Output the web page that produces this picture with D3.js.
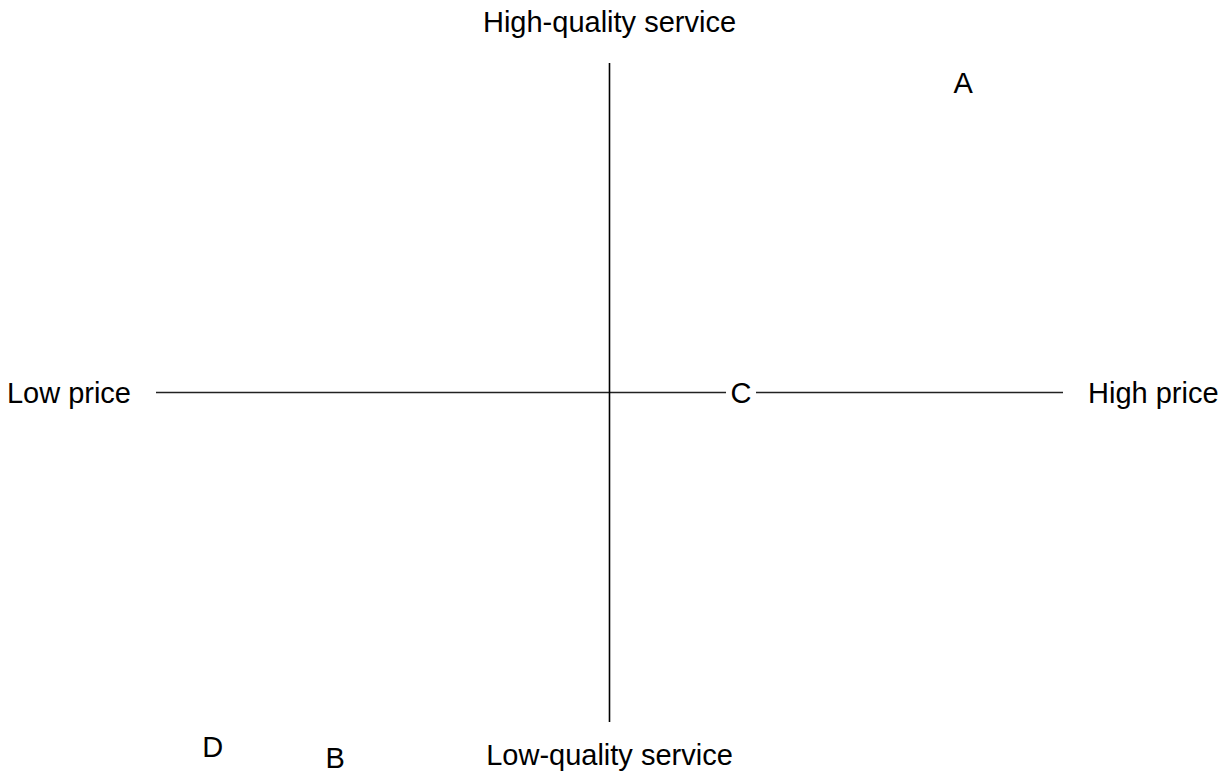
<!DOCTYPE html>
<html>
<head>
<meta charset="utf-8">
<script src="https://cdn.jsdelivr.net/npm/d3@7"></script>
<style>
  body { margin: 0; background: #fff; }
  text { font-family: "Liberation Sans", Arial, sans-serif; fill: #000; }
</style>
</head>
<body>
<svg id="chart"></svg>
<script>
// brands placed on price (x) vs service quality (y)
const brands = ['A', 'B', 'C', 'D'];
const price = [7.8, -6.05, 2.9, -8.75];
const quality = [9.4, -11.1, 0, -10.75];

const axisLabels = ['Low price', 'High price', 'Low-quality service', 'High-quality service'];

let width = 1228;
let height = 775;

let svg = d3.select('#chart').attr('width', width).attr('height', height);

let x = d3.scaleLinear().domain([-10, 10]).range([156, 1063]);
let y = d3.scaleLinear().domain([-10, 10]).range([722, 63]);

let g = svg.append('g');

// the two axes crossing at the middle
g.append('line')
  .attr('x1', x(-10)).attr('x2', x(10))
  .attr('y1', y(0)).attr('y2', y(0))
  .attr('stroke', '#222')
  .attr('stroke-width', 1.4);

g.append('line')
  .attr('x1', x(0)).attr('x2', x(0))
  .attr('y1', y(-10)).attr('y2', y(10))
  .attr('stroke', '#000')
  .attr('stroke-width', 1.6);

// axis end labels
let fs = 29;
g.append('text')
  .text(axisLabels[0])
  .attr('x', x(-10) - 25)
  .attr('y', y(0))
  .attr('dy', '0.35em')
  .attr('text-anchor', 'end')
  .attr('font-size', fs);

g.append('text')
  .text(axisLabels[1])
  .attr('x', x(10) + 25)
  .attr('y', y(0))
  .attr('dy', '0.35em')
  .attr('text-anchor', 'start')
  .attr('font-size', fs);

g.append('text')
  .text(axisLabels[2])
  .attr('x', x(0))
  .attr('y', y(-10) + 43)
  .attr('text-anchor', 'middle')
  .attr('font-size', fs);

g.append('text')
  .text(axisLabels[3])
  .attr('x', x(0))
  .attr('y', y(10) - 31)
  .attr('text-anchor', 'middle')
  .attr('font-size', fs);

// brand markers: letters on a white box
let pts = brands.map((b, i) => ({ name: b, px: price[i], q: quality[i] }));

let marks = g.selectAll('.brand')
  .data(pts)
  .enter().append('g')
  .attr('class', 'brand')
  .attr('transform', d => `translate(${x(d.px)},${y(d.q)})`);

marks.append('rect')
  .attr('x', -15).attr('y', -15)
  .attr('width', 30).attr('height', 30)
  .attr('fill', '#fff');

marks.append('text')
  .text(d => d.name)
  .attr('text-anchor', 'middle')
  .attr('dy', '0.35em')
  .attr('font-size', fs);
</script>
</body>
</html>
